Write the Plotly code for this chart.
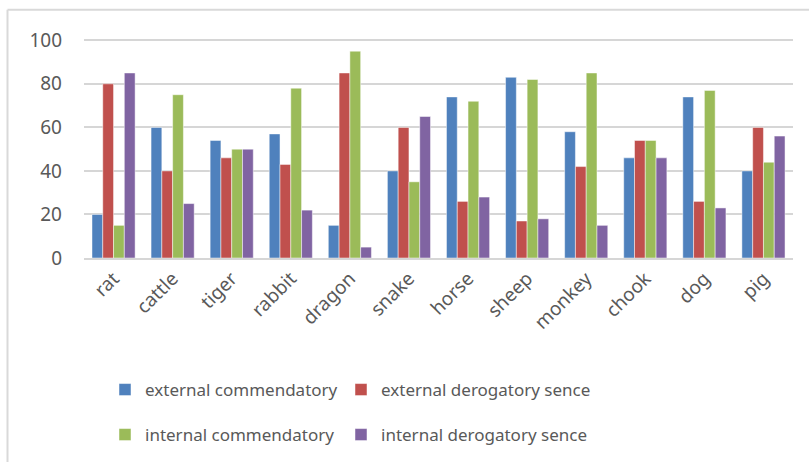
import plotly.graph_objects as go

# Chinese zodiac animals and the four sense ratings for each
animals = ["rat", "cattle", "tiger", "rabbit", "dragon", "snake",
           "horse", "sheep", "monkey", "chook", "dog", "pig"]

external_commendatory = [20, 60, 54, 57, 15, 40, 74, 83, 58, 46, 74, 40]
external_derogatory = [80, 40, 46, 43, 85, 60, 26, 17, 42, 54, 26, 60]
internal_commendatory = [15, 75, 50, 78, 95, 35, 72, 82, 85, 54, 77, 44]
internal_derogatory = [85, 25, 50, 22, 5, 65, 28, 18, 15, 46, 23, 56]

series_names = ["external commendatory", "external derogatory sence",
                "internal commendatory", "internal derogatory sence"]
series_values = [external_commendatory, external_derogatory,
                 internal_commendatory, internal_derogatory]
colors = ["#4f81bd", "#c0504d", "#9bbb59", "#8064a2"]
legend_ids = ["legend", "legend2", "legend3", "legend4"]
# left edge of each legend entry (pixels) and its row centre
legend_x = [105, 341, 105, 341]
legend_y = [390, 390, 435, 435]

y_ticks = [0, 20, 40, 60, 80, 100]

FONT = "Noto Sans"
TEXT = "#595959"
GRID = "#d6d6d6"

fig = go.Figure()
for name, vals, col, lg in zip(series_names, series_values, colors, legend_ids):
    fig.add_trace(go.Bar(
        x=animals, y=vals, name=name, legend=lg,
        marker=dict(color=col, line=dict(color="rgba(255,255,255,0.6)", width=0.8)),
    ))

W, H = 809, 464
ml, mr, mt, mb = 84, 16, 39, 205
pw, ph = W - ml - mr, H - mt - mb


def px_x(p):
    return (p - ml) / pw


def px_y(p):
    return 1 - (p - mt) / ph


legends = {}
for lg, lx, ly in zip(legend_ids, legend_x, legend_y):
    legends[lg] = dict(
        orientation="h", x=px_x(lx), y=px_y(ly),
        xanchor="left", yanchor="middle",
        font=dict(family=FONT, size=17, color=TEXT),
        bgcolor="rgba(0,0,0,0)", itemclick=False,
    )

fig.update_layout(
    width=W, height=H,
    margin=dict(l=ml, r=mr, t=mt, b=mb),
    paper_bgcolor="white", plot_bgcolor="white",
    showlegend=True,
    barmode="group", bargap=0.27, bargroupgap=0,
    font=dict(family=FONT, color=TEXT),
    xaxis=dict(
        tickangle=-45, tickfont=dict(size=19, color=TEXT),
        showline=True, linecolor=GRID, linewidth=2,
        showgrid=False, ticks="",
    ),
    yaxis=dict(
        range=[0, 100.6], tickmode="array", tickvals=y_ticks,
        tickfont=dict(size=19, color=TEXT),
        showgrid=True, gridcolor=GRID, gridwidth=2,
        zeroline=False, showline=False, ticks="", ticklabelstandoff=21,
    ),
    # chart frame (top and left edges)
    shapes=[
        dict(type="line", xref="paper", yref="paper",
             x0=px_x(7.5), x1=px_x(809), y0=px_y(9.5), y1=px_y(9.5),
             line=dict(color="#d9d9d9", width=2)),
        dict(type="line", xref="paper", yref="paper",
             x0=px_x(7.5), x1=px_x(7.5), y0=px_y(9.5), y1=px_y(464),
             line=dict(color="#d9d9d9", width=2)),
    ],
    **legends,
)

fig.write_html("out.html")
